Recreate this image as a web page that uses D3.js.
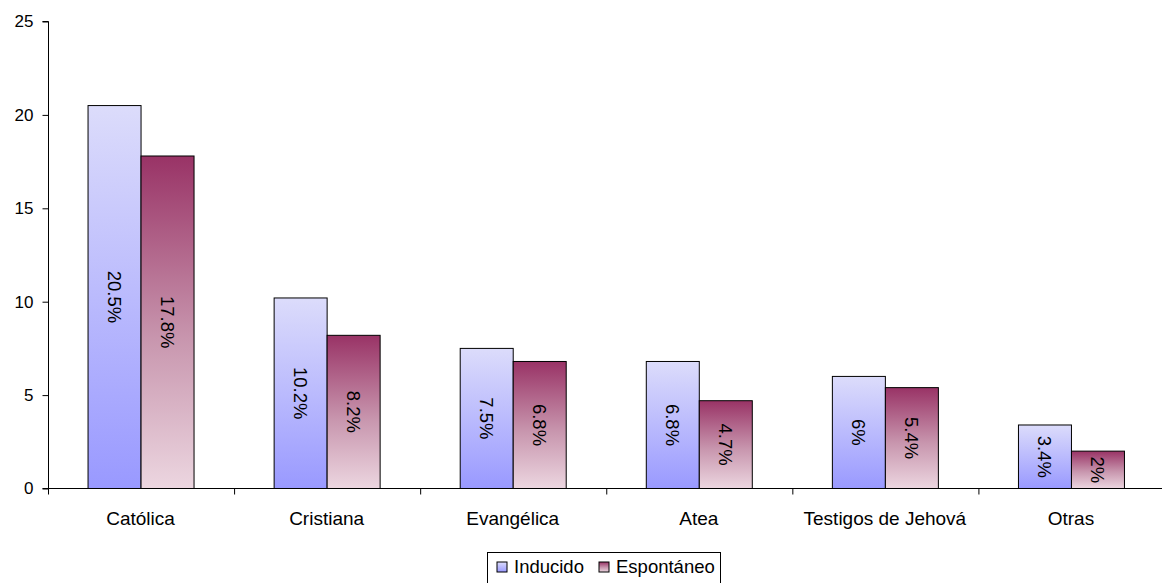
<!DOCTYPE html>
<html>
<head>
<meta charset="utf-8">
<script src="https://cdn.jsdelivr.net/npm/d3@7"></script>
<style>
  html, body { margin: 0; padding: 0; background: #fff; }
  svg { display: block; font-family: "Liberation Sans", Arial, sans-serif; }
</style>
</head>
<body>
<svg id="chart" width="1162" height="583"></svg>
<script>
// Religion categories and the two survey modes
const categories = ["Católica", "Cristiana", "Evangélica", "Atea", "Testigos de Jehová", "Otras"];
const inducido = [20.5, 10.2, 7.5, 6.8, 6, 3.4];
const espontaneo = [17.8, 8.2, 6.8, 4.7, 5.4, 2];
const seriesNames = ["Inducido", "Espontáneo"];
const yTicks = [0, 5, 10, 15, 20, 25];

const svg = d3.select("#chart");
const W = 1162;
const x0 = 48.5, x1 = 1165;
const yBase = 488.5, yTop = 21.5;

const x = d3.scaleBand().domain(categories).range([x0, x1]).paddingInner(0).paddingOuter(0);
const y = d3.scaleLinear().domain([0, 25]).range([yBase, yTop]);
const barW = 53;

// Vertical gradients per series
const defs = svg.append("defs");
const gInd = defs.append("linearGradient").attr("id", "gInd")
  .attr("x1", 0).attr("y1", 0).attr("x2", 0).attr("y2", 1);
gInd.append("stop").attr("offset", 0).attr("stop-color", "#dcdcfb");
gInd.append("stop").attr("offset", 1).attr("stop-color", "#9999ff");
const gEsp = defs.append("linearGradient").attr("id", "gEsp")
  .attr("x1", 0).attr("y1", 0).attr("x2", 0).attr("y2", 1);
gEsp.append("stop").attr("offset", 0).attr("stop-color", "#993366");
gEsp.append("stop").attr("offset", 0.55).attr("stop-color", "#c896ae");
gEsp.append("stop").attr("offset", 1).attr("stop-color", "#ecd6e0");

// Bars with rotated value labels
const series = [
  { name: seriesNames[0], values: inducido, fill: "url(#gInd)", offset: -barW },
  { name: seriesNames[1], values: espontaneo, fill: "url(#gEsp)", offset: 0 }
];
series.forEach(s => {
  const g = svg.append("g");
  g.selectAll("rect").data(s.values).join("rect")
    .attr("x", (d, i) => x(categories[i]) + x.bandwidth() / 2 - 0.5 + s.offset)
    .attr("y", d => y(d))
    .attr("width", barW)
    .attr("height", d => yBase - y(d))
    .attr("fill", s.fill)
    .attr("stroke", "#000")
    .attr("stroke-width", 1);
  g.selectAll("text").data(s.values).join("text")
    .attr("transform", (d, i) => {
      const cx = x(categories[i]) + x.bandwidth() / 2 - 0.5 + s.offset + barW / 2;
      const cy = (y(d) + yBase) / 2;
      return `translate(${cx},${cy}) rotate(90)`;
    })
    .attr("text-anchor", "middle")
    .attr("dy", "0.35em")
    .attr("font-size", 18.5)
    .attr("fill", "#000")
    .text(d => d + "%");
});

// Y axis
const yAxis = d3.axisLeft(y).tickValues(yTicks).tickSize(6).tickPadding(9);
const ya = svg.append("g").attr("transform", `translate(${x0},0)`).call(yAxis);
ya.selectAll("text").attr("font-size", 17).attr("fill", "#000").attr("font-family", "Liberation Sans, Arial, sans-serif");
ya.selectAll("line").attr("stroke", "#000");
ya.select(".domain").attr("stroke", "#000").attr("d", `M-6,${yTop}H0V${yBase}H-6`);

// X axis with ticks at category boundaries
const xa = svg.append("g").attr("transform", `translate(0,${yBase})`);
xa.append("line").attr("x1", x0).attr("x2", W).attr("y1", 0).attr("y2", 0).attr("stroke", "#000");
const bounds = categories.map(c => x(c));
xa.selectAll("line.tick").data(bounds).join("line").attr("class", "tick")
  .attr("x1", d => d).attr("x2", d => d).attr("y1", 0).attr("y2", 6).attr("stroke", "#000");
xa.selectAll("text").data(categories).join("text")
  .attr("x", d => x(d) + x.bandwidth() / 2 - 1)
  .attr("y", 36.5)
  .attr("text-anchor", "middle")
  .attr("font-size", 19)
  .attr("fill", "#000")
  .text(d => d);

// Legend
const lg = svg.append("g").attr("transform", "translate(487.5,552.5)");
lg.append("rect").attr("x", 0).attr("y", 0).attr("width", 233).attr("height", 34)
  .attr("fill", "#fff").attr("stroke", "#000");
const items = [
  { name: seriesNames[0], fill: "url(#gInd)", x: 9.5 },
  { name: seriesNames[1], fill: "url(#gEsp)", x: 111.5 }
];
items.forEach(it => {
  lg.append("rect").attr("x", it.x).attr("y", 9.5).attr("width", 10).attr("height", 10)
    .attr("fill", it.fill).attr("stroke", "#000");
  lg.append("text").attr("x", it.x + 17).attr("y", 20.5).attr("font-size", 18.5).attr("fill", "#000").text(it.name);
});
</script>
</body>
</html>
